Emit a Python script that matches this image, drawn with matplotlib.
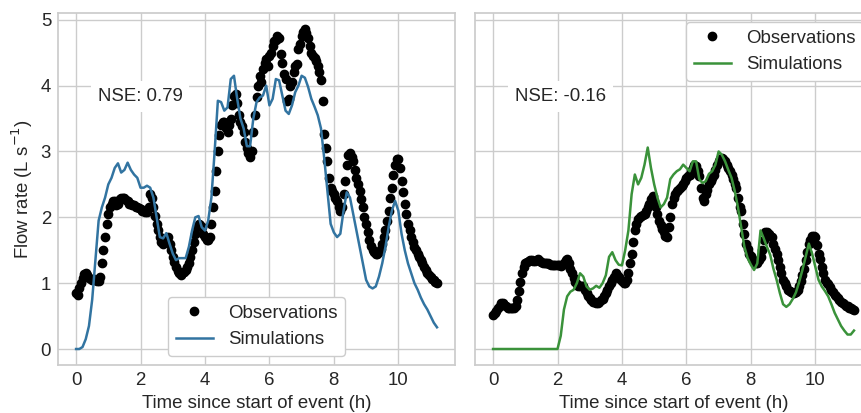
import numpy as np
import matplotlib
matplotlib.use("Agg")
import matplotlib.pyplot as plt

# time axes (h)
time_obs = np.round(np.arange(0, 11.225, 0.05), 2)   # 0.05 h steps
time_sim = np.round(np.arange(0, 11.25, 0.1), 2)     # 0.1 h steps

# observed flow (L/s), one row per hour
obs_left = [0.85, 0.82, 0.92, 1.0, 1.08, 1.14, 1.15, 1.12, 1.08, 1.06, 1.05, 1.07, 1.05, 1.03, 1.03, 1.1, 1.3, 1.5, 1.7, 1.9,
            2.05, 2.15, 2.2, 2.25, 2.25, 2.18, 2.2, 2.28, 2.3, 2.3, 2.3, 2.27, 2.25, 2.2, 2.2, 2.18, 2.18, 2.16, 2.15, 2.14,
            2.12, 2.1, 2.1, 2.08, 2.08, 2.15, 2.35, 2.3, 2.15, 2.02, 1.9, 1.8, 1.7, 1.62, 1.6, 1.65, 1.68, 1.7, 1.6, 1.5,
            1.4, 1.32, 1.25, 1.18, 1.15, 1.13, 1.15, 1.17, 1.2, 1.25, 1.3, 1.4, 1.5, 1.62, 1.75, 1.85, 1.9, 1.88, 1.85, 1.75,
            1.7, 1.65, 1.65, 1.7, 1.9, 2.15, 2.4, 2.7, 3.0, 3.25, 3.4, 3.45, 3.45, 3.35, 3.3, 3.4, 3.5, 3.7, 3.85, 3.88,
            3.73, 3.55, 3.45, 3.38, 3.3, 3.15, 3.05, 2.97, 2.92, 3.0, 3.3, 3.55, 3.82, 4.0, 4.15, 4.05, 4.25, 4.35, 4.4, 4.3,
            4.45, 4.5, 4.6, 4.68, 4.7, 4.75, 4.73, 4.48, 4.35, 4.18, 4.1, 3.77, 3.8, 4.0, 4.05, 4.2, 4.3, 4.33, 4.55, 4.63,
            4.75, 4.82, 4.86, 4.8, 4.73, 4.6, 4.5, 4.45, 4.42, 4.38, 4.3, 4.2, 4.08, 3.77, 3.27, 3.05, 2.86, 2.6, 2.45, 2.4,
            2.35, 2.3, 2.25, 2.15, 2.1, 2.15, 2.35, 2.55, 2.8, 2.95, 2.97, 2.92, 2.85, 2.72, 2.6, 2.5, 2.4, 2.28, 2.15, 2.0,
            1.9, 1.78, 1.65, 1.57, 1.5, 1.47, 1.45, 1.45, 1.47, 1.52, 1.6, 1.7, 1.8, 1.95, 2.1, 2.3, 2.45, 2.65, 2.8, 2.88,
            2.88, 2.75, 2.55, 2.38, 2.2, 2.05, 1.9, 1.8, 1.7, 1.62, 1.55, 1.5, 1.45, 1.4, 1.35, 1.3, 1.25, 1.2, 1.15, 1.12,
            1.1, 1.07, 1.05, 1.02, 1.0]

obs_right = [0.52, 0.55, 0.58, 0.62, 0.66, 0.7, 0.7, 0.67, 0.65, 0.63, 0.62, 0.62, 0.62, 0.63, 0.65, 0.75, 0.88, 1.02, 1.15, 1.25,
             1.3, 1.32, 1.33, 1.35, 1.35, 1.34, 1.33, 1.35, 1.36, 1.34, 1.32, 1.31, 1.3, 1.3, 1.3, 1.29, 1.28, 1.28, 1.28, 1.27,
             1.27, 1.27, 1.26, 1.27, 1.3, 1.35, 1.37, 1.3, 1.22, 1.15, 1.08, 1.02, 0.98, 0.96, 0.95, 0.95, 0.95, 0.9, 0.85, 0.8,
             0.77, 0.74, 0.72, 0.71, 0.7, 0.7, 0.72, 0.74, 0.76, 0.8, 0.85, 0.9, 0.95, 1.0, 1.05, 1.1, 1.15, 1.12, 1.1, 1.06,
             1.03, 1.01, 1.0, 1.05, 1.15, 1.3, 1.45, 1.62, 1.8, 1.9, 1.98, 2.0, 2.02, 2.03, 2.05, 2.1, 2.15, 2.2, 2.28, 2.33,
             2.25, 2.15, 2.05, 1.95, 1.88, 1.82, 1.78, 1.72, 1.7, 1.85, 2.0, 2.2, 2.3, 2.35, 2.4, 2.42, 2.45, 2.48, 2.5, 2.55,
             2.6, 2.62, 2.65, 2.7, 2.75, 2.8, 2.78, 2.7, 2.62, 2.45, 2.3, 2.25, 2.35, 2.42, 2.5, 2.55, 2.6, 2.65, 2.72, 2.8,
             2.85, 2.88, 2.9, 2.89, 2.85, 2.8, 2.75, 2.7, 2.65, 2.58, 2.5, 2.45, 2.3, 2.15, 2.1, 1.9, 1.75, 1.6, 1.52, 1.45,
             1.42, 1.37, 1.32, 1.3, 1.3, 1.35, 1.4, 1.5, 1.65, 1.77, 1.78, 1.75, 1.72, 1.7, 1.6, 1.52, 1.45, 1.35, 1.25, 1.15,
             1.05, 1.0, 0.95, 0.9, 0.88, 0.86, 0.85, 0.85, 0.87, 0.9, 0.95, 1.03, 1.12, 1.22, 1.35, 1.48, 1.6, 1.65, 1.72, 1.72,
             1.7, 1.58, 1.45, 1.36, 1.25, 1.15, 1.05, 1.01, 0.98, 0.94, 0.9, 0.86, 0.82, 0.8, 0.77, 0.74, 0.72, 0.7, 0.68, 0.66,
             0.65, 0.63, 0.62, 0.61, 0.6]

# simulated flow (L/s)
sim_left = [0.0, 0.0, 0.03, 0.15, 0.35, 0.75, 1.35, 1.95, 2.15, 2.3,
            2.5, 2.6, 2.75, 2.82, 2.68, 2.72, 2.83, 2.72, 2.65, 2.6,
            2.45, 2.45, 2.48, 2.45, 2.3, 2.0, 1.7, 1.68, 1.76, 1.6,
            1.45, 1.35, 1.38, 1.38, 1.38, 1.55, 1.8, 2.0, 2.02, 1.85,
            1.8, 1.95, 2.3, 3.0, 3.77, 3.75, 3.62, 3.67, 4.1, 4.15,
            3.8, 3.5, 3.35, 3.08, 3.08, 3.5, 3.75, 3.82, 3.85, 4.0,
            3.7, 3.8, 4.1, 4.08, 3.85, 3.62, 3.57, 3.7, 3.9, 4.0,
            4.15, 4.12, 3.98, 3.8, 3.68, 3.55, 3.35, 2.9, 2.4, 1.9,
            1.77, 1.7, 1.75, 2.1, 2.38, 2.3, 2.05, 1.8, 1.55, 1.3,
            1.05, 0.95, 0.92, 0.95, 1.1, 1.3, 1.55, 1.85, 2.1, 2.25,
            2.1, 1.75, 1.5, 1.3, 1.15, 1.0, 0.9, 0.78, 0.68, 0.6,
            0.5, 0.4, 0.33]

sim_right = [0.0, 0.0, 0.0, 0.0, 0.0, 0.0, 0.0, 0.0, 0.0, 0.0,
             0.0, 0.0, 0.0, 0.0, 0.0, 0.0, 0.0, 0.0, 0.0, 0.0,
             0.0, 0.2, 0.6, 0.8, 0.87, 0.9, 1.0, 1.15, 1.1, 0.95,
             0.9, 0.92, 0.96, 0.93, 1.0, 1.12, 1.4, 1.47, 1.35, 1.28,
             1.27, 1.5, 1.8, 2.35, 2.65, 2.5, 2.6, 2.8, 3.06, 2.75,
             2.5, 2.3, 2.15, 2.2, 2.3, 2.58, 2.65, 2.7, 2.73, 2.8,
             2.75, 2.7, 2.85, 2.85, 2.58, 2.52, 2.55, 2.66, 2.7, 2.8,
             3.0, 2.95, 2.85, 2.72, 2.6, 2.4, 2.15, 1.85, 1.55, 1.38,
             1.28, 1.2, 1.3, 1.8, 1.68, 1.55, 1.43, 1.22, 1.05, 0.85,
             0.68, 0.64, 0.68, 0.76, 0.86, 1.02, 1.2, 1.4, 1.6, 1.45,
             1.25, 1.05, 0.95, 0.88, 0.8, 0.68, 0.55, 0.45, 0.35, 0.28,
             0.22, 0.22, 0.28]

nse_labels = ["NSE: 0.79", "NSE: -0.16"]
sim_colors = ["#3274a1", "#3a923a"]
legend_locs = ["lower center", "upper right"]
x_ticks = [0, 2, 4, 6, 8, 10]
y_ticks = [0, 1, 2, 3, 4, 5]

FS = 13.4
plt.rcParams.update({
    "font.family": ["Liberation Sans", "DejaVu Sans"],
    "font.size": FS,
    "text.color": "#262626",
    "axes.labelcolor": "#262626",
    "xtick.color": "#262626",
    "ytick.color": "#262626",
    "axes.edgecolor": "#cccccc",
    "axes.linewidth": 1.25,
    "grid.color": "#cccccc",
    "grid.linewidth": 1.0,
    "legend.fontsize": FS,
    "legend.edgecolor": "#cccccc",
})

fig = plt.figure(figsize=(8.61, 4.13), dpi=100)
ax1 = fig.add_axes([0.0674, 0.1162, 0.4611, 0.8523])
ax2 = fig.add_axes([0.5517, 0.1162, 0.4611, 0.8523], sharey=ax1)

series = [(ax1, obs_left, sim_left), (ax2, obs_right, sim_right)]
for i, (ax, obs, sim) in enumerate(series):
    ax.grid(True, zorder=0)
    ax.set_axisbelow(True)
    ax.plot(time_obs, obs, "o", color="black", markersize=6, label="Observations")
    ax.plot(time_sim, sim, "-", color=sim_colors[i], lw=1.8, label="Simulations")
    ax.set_xticks(x_ticks)
    ax.set_yticks(y_ticks)
    ax.tick_params(length=0, pad=5, labelsize=FS)
    ax.set_xlabel("Time since start of event (h)", fontsize=FS)
    ax.text(0.1, 0.763, nse_labels[i], transform=ax.transAxes, ha="left", va="center",
            fontsize=FS, bbox=dict(facecolor="white", edgecolor="none", pad=5))
    ax.legend(loc=legend_locs[i], frameon=True, framealpha=1)

ax1.set_ylabel("Flow rate (L s$^{-1}$)", fontsize=FS)
plt.setp(ax2.get_yticklabels(), visible=False)

fig.savefig("out.png", dpi=100)
